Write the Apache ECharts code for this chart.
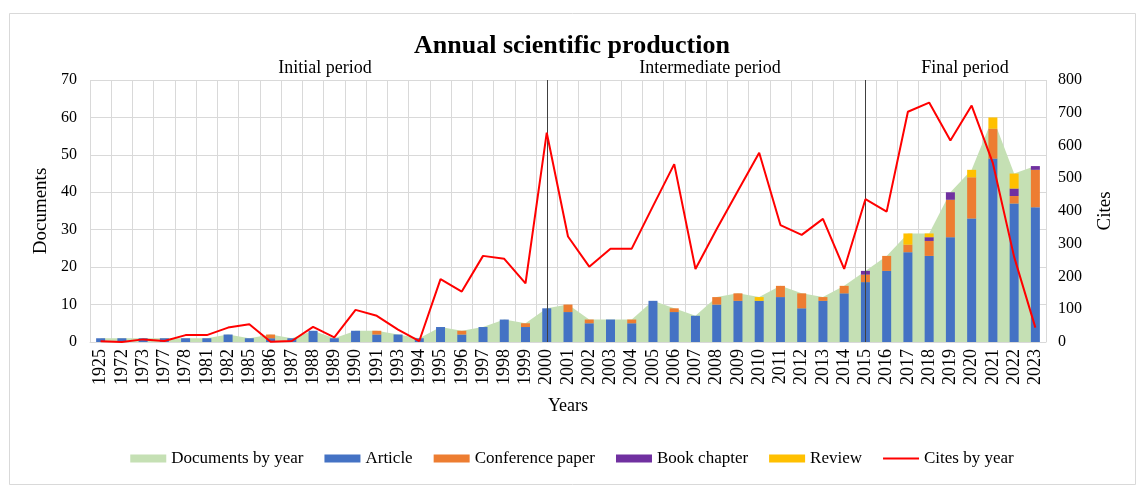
<!DOCTYPE html>
<html>
<head>
<meta charset="utf-8">
<script src="https://cdn.jsdelivr.net/npm/echarts@6/dist/echarts.min.js"></script>
<style>html,body{margin:0;padding:0;background:#fff;}#c{width:1144px;height:493px;}</style>
</head>
<body>
<div id="c"></div>
<script>
const years = ['1925','1972','1973','1977','1978','1981','1982','1985','1986','1987','1988','1989','1990','1991','1993','1994','1995','1996','1997','1998','1999','2000','2001','2002','2003','2004','2005','2006','2007','2008','2009','2010','2011','2012','2013','2014','2015','2016','2017','2018','2019','2020','2021','2022','2023'];
const documentsByYear = [1,1,1,1,1,1,2,1,2,1,3,1,3,3,2,1,4,3,4,6,5,9,10,6,6,6,11,9,7,12,13,12,15,13,12,15,19,23,29,29,40,46,60,45,47];
const article = [1,1,1,1,1,1,2,1,1,1,3,1,3,2,2,1,4,2,4,6,4,9,8,5,6,5,11,8,7,10,11,11,12,9,11,13,16,19,24,23,28,33,49,37,36];
const conferencePaper = [0,0,0,0,0,0,0,0,1,0,0,0,0,1,0,0,0,1,0,0,1,0,2,1,0,1,0,1,0,2,2,0,3,4,1,2,2,4,2,4,10,11,8,2,10];
const bookChapter = [0,0,0,0,0,0,0,0,0,0,0,0,0,0,0,0,0,0,0,0,0,0,0,0,0,0,0,0,0,0,0,0,0,0,0,0,1,0,0,1,2,0,0,2,1];
const review = [0,0,0,0,0,0,0,0,0,0,0,0,0,0,0,0,0,0,0,0,0,0,0,0,0,0,0,0,0,0,0,1,0,0,0,0,0,0,3,1,0,2,3,4,0];
const citesByYear = [2,0,8,3,21,21,44,54,1,3,46,14,98,80,38,3,192,154,263,254,179,639,322,230,285,285,415,543,223,345,462,578,357,327,376,223,436,398,703,731,615,722,546,260,44];
const periodYears = ['2000','2015'];
const periodLabels = ['Initial period','Intermediate period','Final period'];
const docTicks = {min:0, max:70, interval:10};
const citeTicks = {min:0, max:800, interval:100};

const FONT = '"Liberation Serif", "Times New Roman", serif';
const chart = echarts.init(document.getElementById('c'));
const barW = 9;
const option = {
  backgroundColor: '#fff',
  animation: false,
  textStyle: {fontFamily: FONT, color: '#000'},
  title: {
    text: 'Annual scientific production', left: 'center', top: 28,
    textStyle: {fontFamily: FONT, fontSize: 26, fontWeight: 'bold', color: '#000'}
  },
  graphic: [
    {type:'rect', shape:{x:9.5,y:13.5,width:1126,height:471}, style:{fill:'none', stroke:'#D9D9D9', lineWidth:1}, silent:true, z:-1},
    {type:'text', x:325, y:68, style:{text: periodLabels[0], font:'18px ' + FONT, fill:'#000', align:'center', verticalAlign:'middle'}},
    {type:'text', x:710, y:68, style:{text: periodLabels[1], font:'18px ' + FONT, fill:'#000', align:'center', verticalAlign:'middle'}},
    {type:'text', x:965, y:68, style:{text: periodLabels[2], font:'18px ' + FONT, fill:'#000', align:'center', verticalAlign:'middle'}}
  ],
  legend: {
    top: 445, left: 'center', itemWidth: 36, itemHeight: 8, itemGap: 21,
    textStyle: {fontFamily: FONT, fontSize: 17, color: '#000'},
    data: [
      {name:'Documents by year', icon:'rect', itemStyle:{color:'#C5E0B4'}},
      {name:'Article', icon:'rect'},
      {name:'Conference paper', icon:'rect'},
      {name:'Book chapter', icon:'rect'},
      {name:'Review', icon:'rect'},
      {name:'Cites by year', icon:'path://M0,0 L36,0 L36,2 L0,2 Z', itemStyle:{color:'#FF0000'}, itemHeight: 2}
    ]
  },
  grid: {left: 90, right: 98, top: 80, bottom: 151, containLabel: false},
  xAxis: {
    type: 'category', data: years, boundaryGap: true,
    name: 'Years', nameLocation: 'middle', nameGap: 55,
    nameTextStyle: {fontFamily: FONT, fontSize: 18, color: '#000'},
    axisLine: {show: true, lineStyle: {color: '#D9D9D9'}},
    axisTick: {show: false},
    axisLabel: {rotate: 90, interval: 0, fontFamily: FONT, fontSize: 18, color: '#000', margin: 7},
    splitLine: {show: true, interval: 0, lineStyle: {color: '#D9D9D9', width: 1}}
  },
  yAxis: [
    {
      type: 'value', min: docTicks.min, max: docTicks.max, interval: docTicks.interval,
      name: 'Documents', nameLocation: 'middle', nameGap: 38, nameRotate: 90,
      nameTextStyle: {fontFamily: FONT, fontSize: 19, color: '#000'},
      axisLine: {show: false}, axisTick: {show: false},
      axisLabel: {fontFamily: FONT, fontSize: 16, color: '#000', margin: 13},
      splitLine: {show: true, lineStyle: {color: '#D9D9D9', width: 1}}
    },
    {
      type: 'value', min: citeTicks.min, max: citeTicks.max, interval: citeTicks.interval,
      name: 'Cites', nameLocation: 'middle', nameGap: 50, nameRotate: 90,
      nameTextStyle: {fontFamily: FONT, fontSize: 19, color: '#000'},
      axisLine: {show: false}, axisTick: {show: false},
      axisLabel: {fontFamily: FONT, fontSize: 16, color: '#000', margin: 12},
      splitLine: {show: false}
    }
  ],
  series: [
    {
      name: 'Documents by year', type: 'line', data: documentsByYear, yAxisIndex: 0,
      symbol: 'none', lineStyle: {width: 0, color: '#C5E0B4'}, itemStyle: {color: '#C5E0B4'},
      areaStyle: {color: '#C5E0B4', opacity: 1}, z: 1
    },
    {
      name: 'Article', type: 'bar', stack: 'docs', data: article, barWidth: barW,
      itemStyle: {color: '#4472C4'}, z: 2,
      markLine: {
        silent: true, symbol: ['none','none'], label: {show: false},
        lineStyle: {color: '#404040', width: 1, type: 'solid'},
        data: periodYears.map(y => ({xAxis: y}))
      }
    },
    {name: 'Conference paper', type: 'bar', stack: 'docs', data: conferencePaper, barWidth: barW, itemStyle: {color: '#ED7D31'}, z: 2},
    {name: 'Book chapter', type: 'bar', stack: 'docs', data: bookChapter, barWidth: barW, itemStyle: {color: '#7030A0'}, z: 2},
    {name: 'Review', type: 'bar', stack: 'docs', data: review, barWidth: barW, itemStyle: {color: '#FFC000'}, z: 2},
    {
      name: 'Cites by year', type: 'line', data: citesByYear, yAxisIndex: 1,
      symbol: 'none', lineStyle: {width: 2, color: '#FF0000'}, itemStyle: {color: '#FF0000'}, z: 5
    }
  ]
};
chart.setOption(option);
</script>
</body>
</html>
